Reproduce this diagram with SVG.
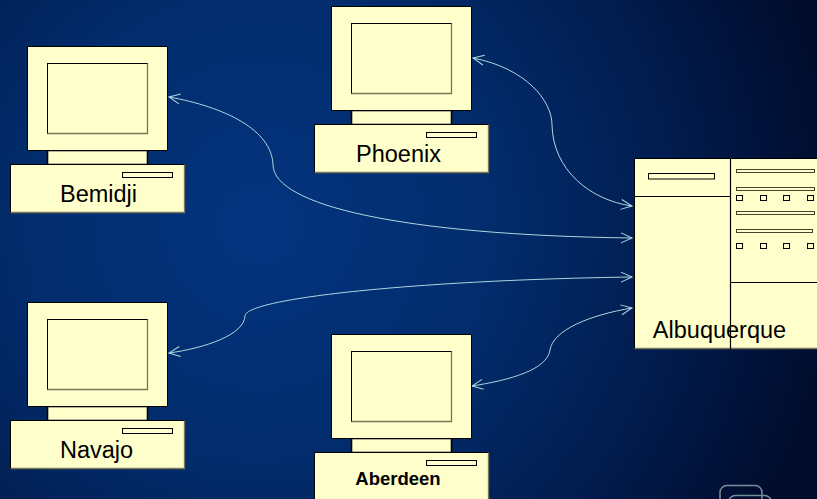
<svg xmlns="http://www.w3.org/2000/svg" width="817" height="499" viewBox="0 0 817 499">
<defs>
<radialGradient id="bg" gradientUnits="userSpaceOnUse" cx="260" cy="225" r="590">
<stop offset="0" stop-color="#03347f"/><stop offset="0.4" stop-color="#022c6c"/><stop offset="0.72" stop-color="#011b4c"/><stop offset="1" stop-color="#000b2a"/>
</radialGradient>
<marker id="a" markerUnits="userSpaceOnUse" markerWidth="14" markerHeight="14" refX="11" refY="5" orient="auto-start-reverse" overflow="visible">
<path d="M0 0 L11 5 L0 10" fill="none" stroke="#b0d6de" stroke-width="1"/>
</marker>
<g id="pc">
<rect x="47.500" y="150.500" width="100" height="14" stroke-width="1.600"/>
<rect x="27.500" y="46.500" width="140" height="104"/>
<rect x="47.500" y="63.500" width="100" height="70"/>
<path d="M147.500 63.500V133.500H47.500" fill="none" stroke="#77775c" stroke-width="1.300"/>
<rect x="10.500" y="164.500" width="174" height="48"/>
<path d="M10.500 212.500H184.500V164.500" fill="none" stroke="#77775c" stroke-width="1.300"/>
<rect x="122.500" y="172.500" width="50" height="5"/>
</g>
</defs>
<style>
.b{fill:#ffffcc;stroke:#000;stroke-width:1}
.r{fill:#ffffcc;stroke:#44442f;stroke-width:1}
.l{fill:none;stroke:#000;stroke-width:1}
.c{fill:none;stroke:#b0d6de;stroke-width:1;marker-start:url(#a);marker-end:url(#a)}
.g{fill:none;stroke-width:1.500}
text{font-family:"Liberation Sans",Arial,sans-serif;fill:#000;font-size:23.500px;text-anchor:middle;stroke:none}
</style>
<rect width="817" height="499" fill="url(#bg)"/>
<g id="logo">
<rect class="g" x="720" y="485.500" width="42" height="30" rx="7" stroke="#7f8a9c"/>
<rect class="g" x="728.500" y="495.500" width="43" height="30" rx="7" stroke="#6f9098"/>
</g>
<g id="connectors">
<path class="c" d="M473 58 C525 68 552 100 552 125 C553 170 590 200 632 206"/>
<path class="c" d="M169 97 C225 107 272 130 273 165 C274 205 400 235 632 238"/>
<path class="c" d="M169 353 C205 348 244 335 245 316 C246 298 420 280 632 277"/>
<path class="c" d="M472 386 C510 380 547 370 550 350 C553 330 590 315 632 308"/>
</g>
<g id="bemidji" class="b"><use href="#pc"/><text x="98.500" y="202">Bemidji</text></g>
<g id="phoenix" class="b"><use href="#pc" x="304" y="-40"/><text x="398.500" y="162">Phoenix</text></g>
<g id="navajo" class="b"><use href="#pc" y="256"/><text x="96.500" y="458">Navajo</text></g>
<g id="aberdeen" class="b"><use href="#pc" x="304" y="288"/><text x="398" y="484.500" style="font-size:18.500px;font-weight:700">Aberdeen</text></g>
<g id="albuquerque">
<rect class="b" x="634.500" y="158.500" width="190" height="190"/>
<path d="M634.500 348.500H817" fill="none" stroke="#77775c" stroke-width="1.300"/>
<path class="l" d="M730.500 158V349M634 196.500H730M730 282.500H817" style="stroke-width:1.200"/>
<rect class="b" x="648.500" y="173.500" width="66" height="5.500"/>
<rect class="r" x="736.500" y="169.500" width="78" height="3"/>
<rect class="r" x="736.500" y="187.500" width="78" height="3"/>
<rect class="r" x="736.500" y="211.500" width="78" height="3"/>
<rect class="r" x="736.500" y="229.500" width="76" height="3"/>
<rect class="b" x="736.500" y="195.500" width="6" height="5"/><rect class="b" x="760.500" y="195.500" width="6" height="5"/><rect class="b" x="783.500" y="195.500" width="6" height="5"/><rect class="b" x="807.500" y="195.500" width="6" height="5"/>
<rect class="b" x="736.500" y="243.500" width="6" height="5"/><rect class="b" x="760.500" y="243.500" width="6" height="5"/><rect class="b" x="783.500" y="243.500" width="6" height="5"/><rect class="b" x="807.500" y="243.500" width="6" height="5"/>
<text x="719.500" y="338">Albuquerque</text>
</g>
</svg>
